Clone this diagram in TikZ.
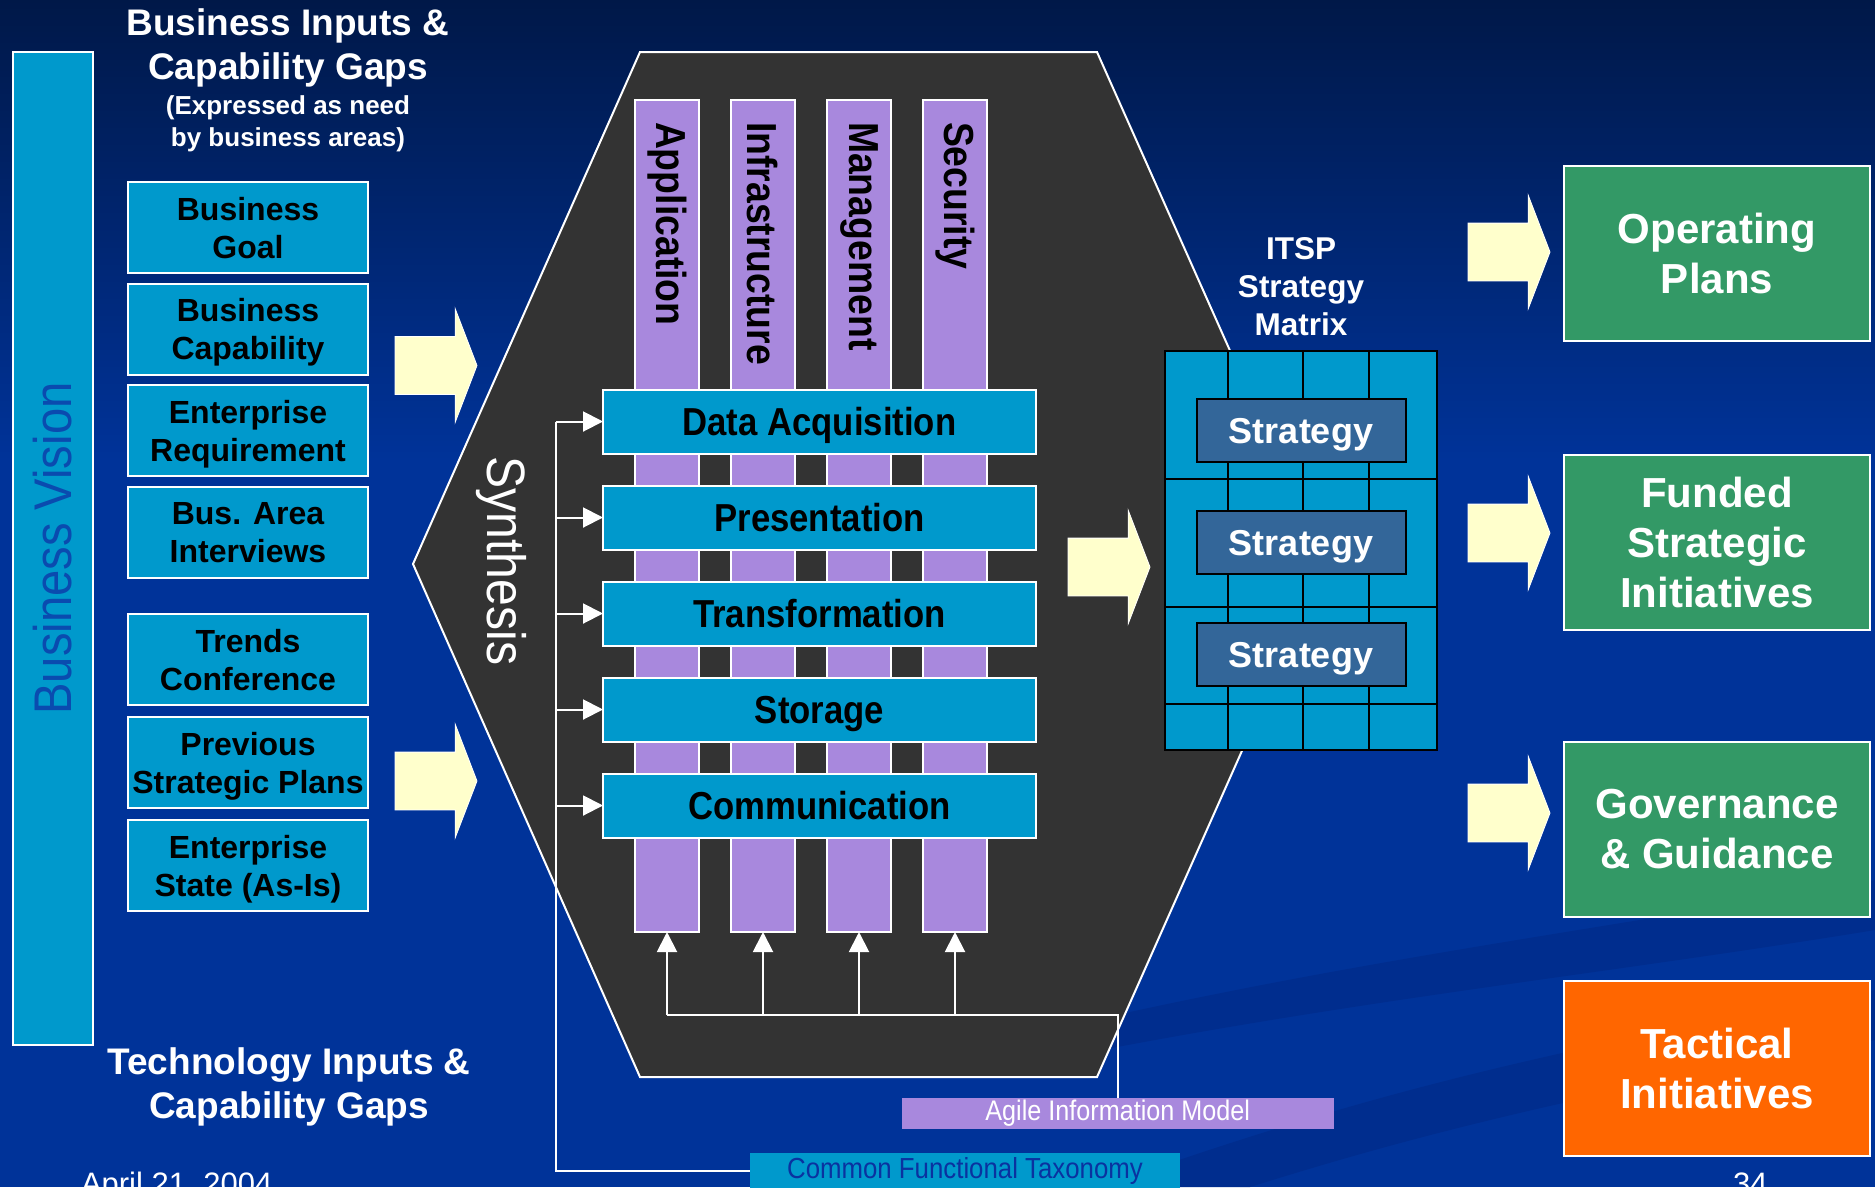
\documentclass[tikz,border=0pt]{standalone}
\usepackage{fontspec}
\setmainfont{Liberation Sans}
\newfontfamily\narrowsf[FakeStretch=0.89]{Liberation Sans}
\usepackage{xcolor}
\usetikzlibrary{arrows.meta,positioning,calc,shapes.arrows}

\definecolor{bgtop}{RGB}{0,24,72}
\definecolor{bgblue}{RGB}{0,51,153}
\definecolor{swoosh}{RGB}{0,45,142}
\definecolor{cyanbox}{RGB}{0,153,204}
\definecolor{lilac}{RGB}{168,136,221}
\definecolor{hexgray}{RGB}{51,51,51}
\definecolor{pale}{RGB}{255,255,204}
\definecolor{stratblue}{RGB}{51,102,153}
\definecolor{greenbox}{RGB}{51,153,102}
\definecolor{orangebox}{RGB}{255,102,0}
\definecolor{visionblue}{RGB}{10,75,175}
\definecolor{taxblue}{RGB}{10,50,160}

\begin{document}
\begin{tikzpicture}[
  x=1pt, y=-1pt,
  node distance=10pt,
  every node/.style={inner sep=0pt, outer sep=0pt},
  heading/.style={align=center, text=white, font=\fontsize{37}{44}\selectfont\bfseries},
  subheading/.style={align=center, text=white, font=\fontsize{26}{32}\selectfont\bfseries},
  inbox/.style={draw=white, line width=2pt, fill=cyanbox, minimum width=240pt, minimum height=91pt, align=center, text depth=0pt, execute at begin node={\rule{0pt}{35pt}}, font=\fontsize{32}{38}\selectfont\bfseries},
  fatarrow/.style={single arrow, draw=white, line width=0.8pt, fill=pale, inner xsep=0pt, inner ysep=28.5pt, minimum height=82pt, minimum width=113pt, single arrow head extend=28pt, single arrow tip angle=138},
  colbox/.style={draw=white, line width=2pt, fill=lilac, minimum width=64pt, minimum height=832pt},
  coltext/.style={rotate=-90, anchor=west, font=\narrowsf\fontsize{42}{42}\selectfont\bfseries},
  layer/.style={draw=white, line width=2pt, fill=cyanbox, minimum width=433pt, minimum height=64pt, text height=28pt, text depth=0pt, font=\narrowsf\fontsize{39}{39}\selectfont\bfseries},
  strat/.style={draw=black, line width=2pt, fill=stratblue, text=white, minimum width=209pt, minimum height=63pt, text height=26pt, text depth=0pt, font=\fontsize{36}{36}\selectfont\bfseries},
  outbox/.style={draw=white, line width=2pt, fill=greenbox, text=white, minimum width=306pt, minimum height=175pt, align=center, font=\fontsize{42}{50}\selectfont\bfseries},
  wire/.style={draw=white, line width=2pt, -{Triangle[length=20pt,width=20pt]}},
  feed/.style={draw=white, line width=2pt},
  gridline/.style={draw=black, line width=2pt},
  foot/.style={text=white, font=\fontsize{31}{31}\selectfont},
]
\useasboundingbox (0,0) rectangle (1875,1187);
\clip (0,0) rectangle (1875,1187);
\fill[bgblue] (0,0) rectangle (1875,1187);
\shade[top color=bgtop, bottom color=bgblue] (0,0) rectangle (1875,460);
\fill[swoosh] (1050,1030) .. controls (1350,960) and (1600,930) .. (1875,880) -- (1875,930) .. controls (1600,975) and (1350,1000) .. (1050,1060) -- cycle;
\fill[swoosh] (1100,1187) .. controls (1350,1100) and (1500,1060) .. (1875,990) -- (1875,1040) .. controls (1550,1100) and (1400,1140) .. (1250,1187) -- cycle;

\node[draw=white, line width=2pt, fill=cyanbox, rotate=90, minimum width=993pt, minimum height=80pt, text=visionblue, font=\narrowsf\fontsize{53}{53}\selectfont] (vision) at (53,548.5) {Business Vision};

\node[heading] (bizin) at (288,48) {Business Inputs \&\\Capability Gaps};
\node[subheading] (bizsub) at (288,123.3) {(Expressed as need\\by business areas)};
\node[heading] (techin) at (289,1087) {Technology Inputs \&\\Capability Gaps};

\node[inbox] (goal) at (248,227.5) {Business\\Goal};
\node[inbox, below=10.5pt of goal] (cap) {Business\\Capability};
\node[inbox, below=10.5pt of cap] (req) {Enterprise\\Requirement};
\node[inbox, below=10.5pt of req] (intv) {Bus. Area\\Interviews};
\node[inbox] (trend) at (248,659.5) {Trends\\Conference};
\node[inbox, below=12pt of trend] (prev) {Previous\\Strategic Plans};
\node[inbox, below=12pt of prev] (asis) {Enterprise\\State (As-Is)};

\node[fatarrow, anchor=tail] (inarrow1) at (395,365.5) {};
\node[fatarrow, anchor=tail] (inarrow2) at (395,781) {};

\draw[draw=white, line width=2pt, fill=hexgray] (640,52) -- (1097,52) -- (1325,564) -- (1097,1077) -- (640,1077) -- (413,564) -- cycle;
\node[rotate=-90, text=white, font=\narrowsf\fontsize{54}{54}\selectfont] (synth) at (501,561) {Synthesis};

\node[colbox] (appcol) at (667,516) {};
\node[colbox, right=32pt of appcol] (infcol) {};
\node[colbox, right=32pt of infcol] (mgtcol) {};
\node[colbox, right=32pt of mgtcol] (seccol) {};
\node[coltext] (applbl) at ($(appcol.north)+(0,22)$) {Application};
\node[coltext] (inflbl) at ($(infcol.north)+(0,22)$) {Infrastructure};
\node[coltext] (mgtlbl) at ($(mgtcol.north)+(0,22)$) {Management};
\node[coltext] (seclbl) at ($(seccol.north)+(0,22)$) {Security};

\node[layer] (dacq) at (819.5,421.5) {Data Acquisition};
\node[layer, below=32pt of dacq] (pres) {Presentation};
\node[layer, below=32pt of pres] (trans) {Transformation};
\node[layer, below=32pt of trans] (stor) {Storage};
\node[layer, below=32pt of stor] (comm) {Communication};

\node[fill=lilac, minimum width=432pt, minimum height=31pt, text=white, font=\narrowsf\fontsize{28.3}{29}\selectfont] (aim) at (1117.7,1113.5) {Agile Information Model};
\node[fill=cyanbox, minimum width=430pt, minimum height=36.6pt, text=taxblue, font=\narrowsf\fontsize{29}{29}\selectfont] (cft) at (965,1171.3) {Common Functional Taxonomy};

\coordinate (trunk) at (556,421.5);
\draw[feed] (trunk) |- (cft.west);
\foreach \lay in {dacq,pres,trans,stor,comm}
  \draw[wire] (trunk |- \lay.west) -- (\lay.west);
\coordinate (feedbar) at (0,1015);
\draw[feed] (aim.north) |- (appcol.south |- feedbar);
\foreach \col in {appcol,infcol,mgtcol,seccol}
  \draw[wire] (\col.south |- feedbar) -- (\col.south);

\node[fatarrow, anchor=tail] (midarrow) at (1068,567) {};

\node[draw=black, line width=2pt, fill=cyanbox, minimum width=272pt, minimum height=399pt] (grid) at (1301,550.5) {};
\foreach \gx in {1228,1303,1369}
  \draw[gridline] (\gx,0 |- grid.north) -- (\gx,0 |- grid.south);
\foreach \gy in {479,607,703.5}
  \draw[gridline] (grid.west |- 0,\gy) -- (grid.east |- 0,\gy);
\node[strat] (strat1) at (1301,430.5) {Strategy};
\node[strat, below=49pt of strat1] (strat2) {Strategy};
\node[strat, below=49pt of strat2] (strat3) {Strategy};
\node[align=center, text=white, font=\fontsize{31.5}{38}\selectfont\bfseries, above=15pt of grid] (itsp) {ITSP\\Strategy\\Matrix};

\node[fatarrow, anchor=tail] (outarrow1) at (1468,252) {};
\node[fatarrow, anchor=tail] (outarrow2) at (1468,533) {};
\node[fatarrow, anchor=tail] (outarrow3) at (1468,813) {};

\node[outbox] (oper) at (1717,253.5) {Operating\\Plans};
\node[outbox, below=113.5pt of oper] (funded) {Funded\\Strategic\\Initiatives};
\node[outbox, below=112pt of funded] (gov) {Governance\\\& Guidance};
\node[outbox, fill=orangebox, below=64.5pt of gov] (tact) {Tactical\\Initiatives};

\node[foot, anchor=base west] (date) at (81,1194) {April 21, 2004};
\node[foot, anchor=base west] (pageno) at (1733,1194) {34};
\end{tikzpicture}
\end{document}
